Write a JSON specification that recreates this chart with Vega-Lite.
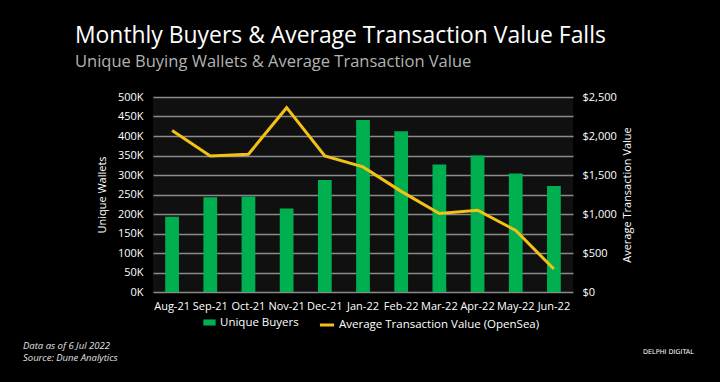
{
  "$schema": "https://vega.github.io/schema/vega-lite/v6.json",
  "width": 420,
  "height": 195,
  "autosize": {"type": "none"},
  "padding": {"left": 153, "top": 97, "right": 147, "bottom": 90},
  "background": "#000000",
  "title": {
    "text": "Monthly Buyers & Average Transaction Value Falls",
    "subtitle": "Unique Buying Wallets & Average Transaction Value",
    "anchor": "start",
    "frame": "group",
    "dx": -78,
    "offset": 21,
    "font": "Open Sans",
    "fontSize": 22.9,
    "fontWeight": "normal",
    "color": "#ffffff",
    "subtitleFont": "Open Sans",
    "subtitleFontSize": 16.5,
    "subtitleColor": "#b3b3b3",
    "subtitlePadding": 6
  },
  "config": {
    "view": {"fill": "#101010", "stroke": null},
    "font": "Open Sans",
    "axis": {"labelFont": "Open Sans", "titleFont": "Open Sans", "labelColor": "#ffffff", "titleColor": "#ffffff", "titleFontWeight": "normal", "labelFontSize": 11, "titleFontSize": 11}
  },
  "data": {
    "values": [
      {"month": "Aug-21", "buyers": 193000, "atv": 2069},
      {"month": "Sep-21", "buyers": 243000, "atv": 1745},
      {"month": "Oct-21", "buyers": 245000, "atv": 1766},
      {"month": "Nov-21", "buyers": 214000, "atv": 2363},
      {"month": "Dec-21", "buyers": 287000, "atv": 1745},
      {"month": "Jan-22", "buyers": 441000, "atv": 1604},
      {"month": "Feb-22", "buyers": 412000, "atv": 1290},
      {"month": "Mar-22", "buyers": 327000, "atv": 1007},
      {"month": "Apr-22", "buyers": 350000, "atv": 1049},
      {"month": "May-22", "buyers": 304000, "atv": 789},
      {"month": "Jun-22", "buyers": 272000, "atv": 294}
    ]
  },
  "encoding": {
    "x": {
      "field": "month", "type": "ordinal", "sort": null,
      "scale": {"paddingInner": 0.64, "paddingOuter": 0.32},
      "axis": {"title": null, "labelAngle": 0, "ticks": false, "domain": false, "labelPadding": 8, "labelFontSize": 11, "labelOverlap": false}
    }
  },
  "layer": [
    {
      "mark": {"type": "bar", "color": "#00B050"},
      "encoding": {
        "y": {
          "field": "buyers", "type": "quantitative",
          "scale": {"domain": [0, 500000]},
          "axis": {"title": "Unique Wallets", "values": [0,50000,100000,150000,200000,250000,300000,350000,400000,450000,500000], "labelExpr": "datum.value/1000 + 'K'", "labelOverlap": false, "grid": true, "gridColor": "#8a8a8a", "gridWidth": 1.5, "ticks": false, "domain": false, "labelPadding": 10, "titlePadding": 10}
        },
        "fill": {"datum": "Unique Buyers", "type": "nominal", "scale": {"range": ["#00B050"]},
          "legend": {"title": null, "orient": "none", "legendX": 50, "legendY": 219, "symbolType": "M-1,-0.5H1V0.5H-1Z", "symbolSize": 150, "symbolStrokeWidth": 0, "labelColor": "#ffffff", "labelFontSize": 11.5, "labelFont": "Open Sans", "labelLimit": 300, "padding": 0}}
      }
    },
    {
      "mark": {"type": "line", "strokeWidth": 3},
      "encoding": {
        "y": {
          "field": "atv", "type": "quantitative",
          "scale": {"domain": [0, 2500]},
          "axis": {"title": "Average Transaction Value", "orient": "right", "titleAngle": 270, "values": [0,500,1000,1500,2000,2500], "format": "$,.0f", "labelOverlap": false, "grid": false, "ticks": false, "domain": false, "labelPadding": 9, "titlePadding": 16}
        },
        "stroke": {"datum": "Average Transaction Value (OpenSea)", "type": "nominal", "scale": {"range": ["#F2C314"]},
          "legend": {"title": null, "orient": "none", "legendX": 165, "legendY": 219, "symbolType": "stroke", "symbolSize": 200, "symbolStrokeWidth": 3, "labelColor": "#ffffff", "labelFontSize": 11.5, "labelFont": "Open Sans", "labelLimit": 400, "labelOffset": 3, "padding": 0}}
      }
    },
    {
      "data": {"values": [{"t": "Data as of 6 Jul 2022", "r": 0}, {"t": "Source: Dune Analytics", "r": 1}]},
      "mark": {"type": "text", "align": "left", "baseline": "middle", "fontStyle": "italic", "fontSize": 9.5, "letterSpacing": 0.6, "color": "#e0e0e0", "font": "Open Sans"},
      "encoding": {
        "x": {"value": -130},
        "y": {"field": "r", "type": "quantitative", "scale": {"domain": [0, 1], "range": [248.5, 261]}, "axis": null},
        "text": {"field": "t"}
      }
    },
    {
      "data": {"values": [{"t": "DELPHI DIGITAL"}]},
      "mark": {"type": "text", "align": "left", "baseline": "middle", "fontSize": 6.5, "color": "#ffffff", "font": "DejaVu Sans", "letterSpacing": 2},
      "encoding": {
        "x": {"value": 490},
        "y": {"value": 255},
        "text": {"field": "t"}
      }
    }
  ],
  "resolve": {"scale": {"y": "independent", "fill": "independent", "stroke": "independent"}}
}
